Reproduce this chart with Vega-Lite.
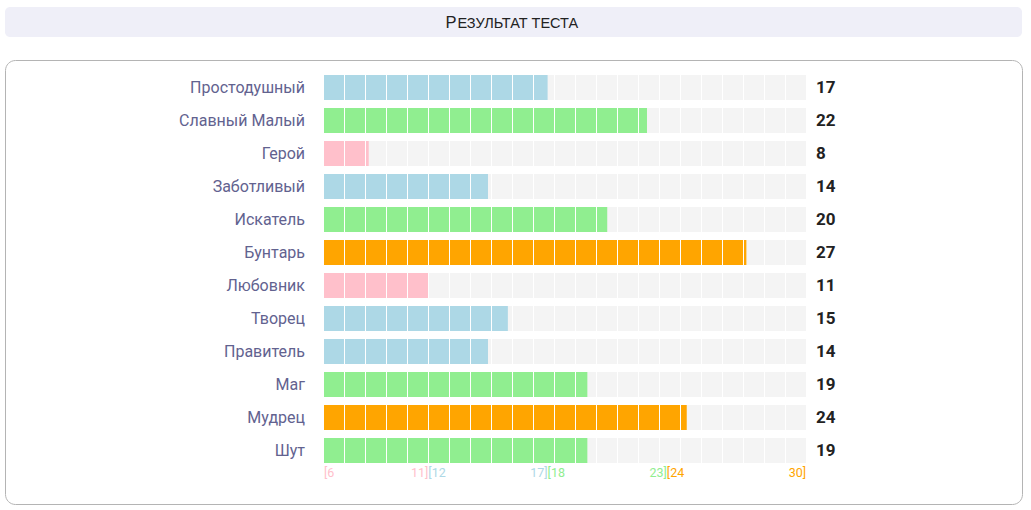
{
  "$schema": "https://vega.github.io/schema/vega-lite/v6.json",
  "padding": {"left": 4, "top": 7, "right": 10, "bottom": 6},
  "spacing": 22,
  "config": {"font": "Roboto"},
  "datasets": {
    "scores": [
      {"archetype": "Простодушный", "score": 17, "tier": "12–17"},
      {"archetype": "Славный Малый", "score": 22, "tier": "18–23"},
      {"archetype": "Герой", "score": 8, "tier": "6–11"},
      {"archetype": "Заботливый", "score": 14, "tier": "12–17"},
      {"archetype": "Искатель", "score": 20, "tier": "18–23"},
      {"archetype": "Бунтарь", "score": 27, "tier": "24–30"},
      {"archetype": "Любовник", "score": 11, "tier": "6–11"},
      {"archetype": "Творец", "score": 15, "tier": "12–17"},
      {"archetype": "Правитель", "score": 14, "tier": "12–17"},
      {"archetype": "Маг", "score": 19, "tier": "18–23"},
      {"archetype": "Мудрец", "score": 24, "tier": "24–30"},
      {"archetype": "Шут", "score": 19, "tier": "18–23"}
    ],
    "tiers": [
      {"tier": "6–11", "open": "[6", "close": "11]", "from": 5.75, "to": 11},
      {"tier": "12–17", "open": "[12", "close": "17]", "from": 11, "to": 17},
      {"tier": "18–23", "open": "[18", "close": "23]", "from": 17, "to": 23},
      {"tier": "24–30", "open": "[24", "close": "30]", "from": 23, "to": 30}
    ]
  },
  "vconcat": [
    {
      "width": 1017,
      "height": 30,
      "view": {"fill": "#efeff8", "stroke": null, "cornerRadius": 5},
      "data": {"values": [{"heading": "Результат теста"}]},
      "layer": [
        {
          "mark": {"type": "text", "text": "Р", "font": "Liberation Sans", "fontSize": 16.5, "color": "#222222", "align": "right", "baseline": "alphabetic", "dx": -57, "dy": 6},
          "encoding": {}
        },
        {
          "mark": {"type": "text", "text": "ЕЗУЛЬТАТ ТЕСТА", "font": "Liberation Sans", "fontSize": 14.5, "color": "#222222", "align": "left", "baseline": "alphabetic", "dx": -56, "dy": 6},
          "encoding": {}
        }
      ]
    },
    {
      "width": 1017,
      "height": 444,
      "view": {"fill": "white", "stroke": "#b4b4b4", "strokeWidth": 1, "cornerRadius": 10},
      "layer": [
        {
          "data": {"name": "scores"},
          "mark": {"type": "bar", "color": "#f4f4f4"},
          "encoding": {
            "y": {"field": "archetype", "type": "nominal", "sort": null, "axis": null,
                  "scale": {"range": [11, 407], "paddingInner": 0.2424, "paddingOuter": 0.1212}},
            "x": {"datum": 5.75, "type": "quantitative", "axis": null,
                  "scale": {"domain": [5.75, 30], "range": [319, 801], "nice": false, "zero": false}},
            "x2": {"datum": 30}
          }
        },
        {
          "data": {"name": "scores"},
          "mark": {"type": "bar"},
          "encoding": {
            "y": {"field": "archetype", "type": "nominal", "sort": null},
            "x": {"field": "score", "type": "quantitative", "stack": null},
            "x2": {"datum": 5.75},
            "color": {
              "field": "tier", "type": "nominal", "legend": null,
              "scale": {"domain": ["6–11", "12–17", "18–23", "24–30"], "range": ["#ffc0cb", "#add8e6", "#90ee90", "#ffa500"]}
            }
          }
        },
        {
          "data": {"name": "scores"},
          "mark": {"type": "rule", "color": "white", "strokeWidth": 25, "strokeDash": [1, 20], "strokeDashOffset": 1, "strokeCap": "butt"},
          "encoding": {
            "y": {"field": "archetype", "type": "nominal", "sort": null},
            "x": {"datum": 5.75, "type": "quantitative"},
            "x2": {"datum": 30}
          }
        },
        {
          "data": {"name": "scores"},
          "mark": {"type": "text", "align": "right", "baseline": "middle", "dx": -19, "fontSize": 16, "color": "#62628f"},
          "encoding": {
            "y": {"field": "archetype", "type": "nominal", "sort": null},
            "x": {"datum": 5.75, "type": "quantitative"},
            "text": {"field": "archetype"}
          }
        },
        {
          "data": {"name": "scores"},
          "mark": {"type": "text", "align": "left", "baseline": "middle", "dx": 10, "fontSize": 17, "fontWeight": "bold", "color": "#222222"},
          "encoding": {
            "y": {"field": "archetype", "type": "nominal", "sort": null},
            "x": {"datum": 30, "type": "quantitative"},
            "text": {"field": "score"}
          }
        },
        {
          "data": {"name": "tiers"},
          "mark": {"type": "text", "align": "left", "baseline": "middle", "dy": 22, "fontSize": 12.5},
          "encoding": {
            "x": {"field": "from", "type": "quantitative"},
            "y": {"datum": "Шут", "type": "nominal"},
            "text": {"field": "open"},
            "color": {"field": "tier", "type": "nominal", "legend": null}
          }
        },
        {
          "data": {"name": "tiers"},
          "mark": {"type": "text", "align": "right", "baseline": "middle", "dy": 22, "fontSize": 12.5},
          "encoding": {
            "x": {"field": "to", "type": "quantitative"},
            "y": {"datum": "Шут", "type": "nominal"},
            "text": {"field": "close"},
            "color": {"field": "tier", "type": "nominal", "legend": null}
          }
        }
      ]
    }
  ]
}
